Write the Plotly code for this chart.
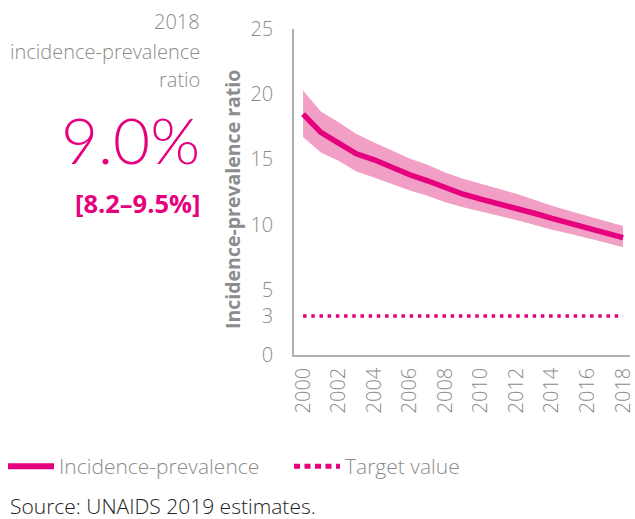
import plotly.graph_objects as go

years = list(range(2000, 2019))
ratio = [18.47, 17.07, 16.25, 15.43, 14.97, 14.38, 13.82, 13.36, 12.79, 12.33,
         11.95, 11.62, 11.28, 10.87, 10.47, 10.13, 9.75, 9.37, 9.0]
upper = [20.29, 18.68, 17.84, 16.94, 16.30, 15.69, 15.07, 14.59, 14.00, 13.51,
         13.10, 12.74, 12.36, 11.90, 11.44, 11.05, 10.67, 10.29, 9.90]
lower = [16.71, 15.53, 14.89, 14.07, 13.61, 13.10, 12.62, 12.21, 11.72, 11.34,
         10.98, 10.67, 10.36, 9.98, 9.60, 9.29, 8.98, 8.62, 8.27]
target = [3] * len(years)
y_ticks = [0, 3, 5, 10, 15, 20, 25]
x_ticks = list(range(2000, 2019, 2))

W, H = 635, 519
MAG = "#E5007D"
BAND = "#F19FC5"
GREY = "#8C8C8C"
FONT = "Open Sans"

def px(x):
    return x / W

def py(y):
    return 1 - y / H

fig = go.Figure()
fig.add_trace(go.Scatter(x=years, y=lower, mode="lines", line=dict(width=0, color=BAND),
                         showlegend=False, hoverinfo="skip"))
fig.add_trace(go.Scatter(x=years, y=upper, mode="lines", line=dict(width=0, color=BAND),
                         fill="tonexty", fillcolor=BAND, showlegend=False, hoverinfo="skip"))
fig.add_trace(go.Scatter(x=years, y=ratio, mode="lines", name="Incidence-prevalence",
                         line=dict(color=MAG, width=5.5), showlegend=False))
fig.add_trace(go.Scatter(x=years, y=target, mode="lines", name="Target value",
                         line=dict(color=MAG, width=3.5, dash="3.5px,4.7px"), showlegend=False))
# legend entries (legend-only styling)
fig.add_trace(go.Scatter(x=[None], y=[None], mode="lines", name="Incidence-prevalence",
                         line=dict(color=MAG, width=6)))
fig.add_trace(go.Scatter(x=[None], y=[None], mode="lines", name="Target value",
                         line=dict(color=MAG, width=5, dash="6px,4.5px")))

fig.update_layout(
    template="none",
    width=W, height=H,
    margin=dict(l=0, r=0, t=0, b=0, autoexpand=False),
    paper_bgcolor="white", plot_bgcolor="white",
    font=dict(family=FONT, color=GREY, size=18, weight=300),
    xaxis=dict(domain=[px(294), px(630)], range=[1999.49, 2018.39], automargin=False,
               tickvals=x_ticks, tickangle=-90, showgrid=False, zeroline=False,
               showline=True, linecolor="#B0B0B0", linewidth=1.5,
               ticks="outside", ticklen=3, tickcolor="rgba(0,0,0,0)",
               ticklabeloverflow="allow",
               tickfont=dict(size=20, color=GREY, family=FONT, weight=300)),
    yaxis=dict(domain=[py(355), py(29)], range=[0, 25], tickvals=y_ticks, automargin=False,
               showgrid=False, zeroline=False, showline=True, linecolor="#B0B0B0",
               linewidth=1.5, ticks="outside", ticklen=15, tickcolor="rgba(0,0,0,0)",
               tickfont=dict(size=20, color=GREY, family=FONT, weight=300)),
    legend=dict(orientation="h", x=px(3), y=py(446), xanchor="left", yanchor="top",
                traceorder="normal", itemwidth=46, entrywidth=225, entrywidthmode="pixels",
                font=dict(size=21, color=GREY, family=FONT, weight=300),
                bgcolor="rgba(0,0,0,0)"),
    showlegend=True,
)

ann = [
    dict(text="2018", x=px(202), y=py(22), xanchor="right", yanchor="middle",
         font=dict(size=20, color=GREY, family=FONT, weight=300)),
    dict(text="incidence-prevalence", x=px(202), y=py(51), xanchor="right", yanchor="middle",
         font=dict(size=20, color=GREY, family=FONT, weight=300)),
    dict(text="ratio", x=px(202), y=py(80), xanchor="right", yanchor="middle",
         font=dict(size=20, color=GREY, family=FONT, weight=300)),
    dict(text="9.0%", x=px(202), y=py(139), xanchor="right", yanchor="middle",
         font=dict(size=64, color=MAG, family="Lato", weight=300)),
    dict(text="[8.2–9.5%]", x=px(202), y=py(203), xanchor="right", yanchor="middle",
         font=dict(size=25.5, color=MAG, family=FONT, weight=700)),
    dict(text="Incidence-prevalence ratio", x=px(233), y=py(200), textangle=-90,
         xanchor="center", yanchor="middle",
         font=dict(size=19.5, color=GREY, family=FONT, weight=700)),
    dict(text="Source: UNAIDS 2019 estimates.", x=px(8), y=py(506), xanchor="left",
         yanchor="middle", font=dict(size=21, color="#222222", family=FONT, weight=300)),
]
for a in ann:
    a.update(xref="paper", yref="paper", showarrow=False)
fig.update_layout(annotations=ann)

fig.write_html("out.html", config={"displayModeBar": False},
               post_script="document.body.style.margin='0';document.body.style.overflow='hidden';")
